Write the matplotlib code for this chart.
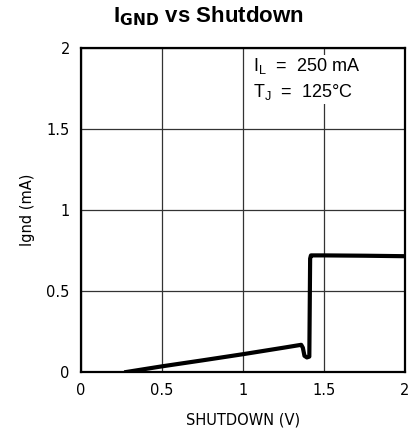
"""IGND vs Shutdown characteristic curve."""
import matplotlib
matplotlib.use("Agg")
import matplotlib.pyplot as plt

plt.rcParams.update({
    "font.family": ["DejaVu Sans"],
    "font.size": 10,
})

# shutdown pin voltage (V) and ground current (mA)
shutdown_v = [0.28, 0.5, 0.75, 1.0, 1.25, 1.36, 1.37, 1.38, 1.395, 1.41, 1.415, 1.42, 1.435, 1.5, 1.75, 2.0]
ignd_ma = [0.0, 0.035, 0.072, 0.11, 0.15, 0.168, 0.15, 0.10, 0.09, 0.095, 0.70, 0.72, 0.72, 0.72, 0.718, 0.715]

ticks = [0, 0.5, 1, 1.5, 2]
tick_labels = ["0", "0.5", "1", "1.5", "2"]

fig = plt.figure(figsize=(4.17, 4.45), dpi=100)
ax = fig.add_axes([0.194, 0.164, 0.777, 0.728])

ax.plot(shutdown_v, ignd_ma, "-", color="black", lw=3.0, solid_joinstyle="round", zorder=3)

ax.set_xlim(0, 2)
ax.set_ylim(0, 2)
ax.set_xticks(ticks)
ax.set_xticklabels(tick_labels)
ax.set_yticks(ticks)
ax.set_yticklabels(tick_labels)
ax.tick_params(length=0, pad=8, labelsize=10.5)
ax.grid(True, color="#333333", lw=0.9)
for s in ax.spines.values():
    s.set_linewidth(1.6)

ax.set_xlabel("SHUTDOWN (V)", fontsize=10.5, labelpad=10)
ax.set_ylabel("Ignd (mA)", fontsize=10.5, labelpad=8)

ax.text(1.06, 1.95, "I$_\\mathregular{L}$  =  250 mA\nT$_\\mathregular{J}$  =  125°C",
        ha="left", va="top", fontsize=13, linespacing=1.4, family="Liberation Sans",
        bbox=dict(facecolor="white", edgecolor="none", pad=1), zorder=4)

fig.text(0.5, 0.964, "I$_\\mathbf{GND}$ vs Shutdown", ha="center", va="center",
         fontsize=16, fontweight="bold", family="Liberation Sans")

fig.savefig("out.png", dpi=100, facecolor="white")
